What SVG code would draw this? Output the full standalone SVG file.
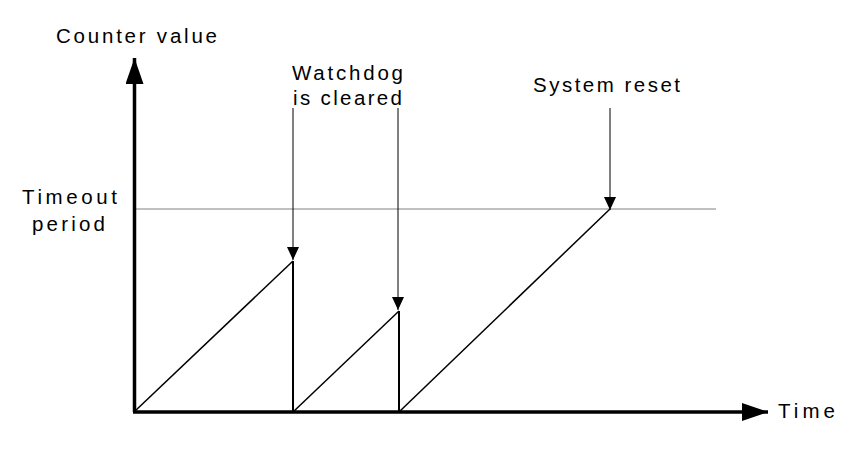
<svg xmlns="http://www.w3.org/2000/svg" width="851" height="472" viewBox="0 0 851 472">
<style>
text{font-family:"Liberation Sans",Arial,sans-serif;font-size:20.5px;fill:#000}
.ramp{stroke:#000;stroke-width:1.5;fill:none}
.drop{stroke:#000;stroke-width:2;fill:none}
.pt{stroke:#000;stroke-width:1;fill:none}
</style>
<defs>
<marker id="big" markerUnits="userSpaceOnUse" markerWidth="26" markerHeight="18" refX="26" refY="9" orient="auto">
<path d="M0,0 L26,9 L0,18 Z" fill="#000"/>
</marker>
<marker id="small" markerUnits="userSpaceOnUse" markerWidth="13" markerHeight="12" refX="13" refY="6" orient="auto">
<path d="M0,0 L13,6 L0,12 Z" fill="#000"/>
</marker>
</defs>
<rect width="851" height="472" fill="#fff"/>
<g id="timeout-line">
<line x1="134" y1="209" x2="716" y2="209" stroke="#808080" stroke-width="1"/>
</g>
<g id="axes">
<line x1="134.5" y1="412" x2="134.5" y2="58" stroke="#000" stroke-width="3.5" marker-end="url(#big)"/>
<line x1="133" y1="412" x2="768" y2="412" stroke="#000" stroke-width="3.5" marker-end="url(#big)"/>
</g>
<g id="counter-trace">
<path class="ramp" d="M134,412 L293,261"/>
<path class="drop" d="M293,261 L293,412"/>
<path class="ramp" d="M293,412 L399,311"/>
<path class="drop" d="M399,311 L399,412"/>
<path class="ramp" d="M399,412 L610,209"/>
</g>
<g id="connectors">
<line class="pt" x1="293" y1="108" x2="293" y2="260" marker-end="url(#small)"/>
<line class="pt" x1="398" y1="108" x2="398" y2="310" marker-end="url(#small)"/>
<line class="pt" x1="610" y1="108" x2="610" y2="210" marker-end="url(#small)"/>
</g>
<g id="label-counter"><text x="56" y="43" textLength="161" lengthAdjust="spacing">Counter value</text></g>
<g id="label-timeout">
<text x="22" y="204" textLength="95" lengthAdjust="spacing">Timeout</text>
<text x="32" y="231" textLength="73" lengthAdjust="spacing">period</text>
</g>
<g id="label-watchdog">
<text x="292" y="80" textLength="111" lengthAdjust="spacing">Watchdog</text>
<text x="293" y="105" textLength="109" lengthAdjust="spacing">is cleared</text>
</g>
<g id="label-reset"><text x="533" y="92" textLength="147" lengthAdjust="spacing">System reset</text></g>
<g id="label-time"><text x="778" y="418" textLength="57" lengthAdjust="spacing">Time</text></g>
</svg>
